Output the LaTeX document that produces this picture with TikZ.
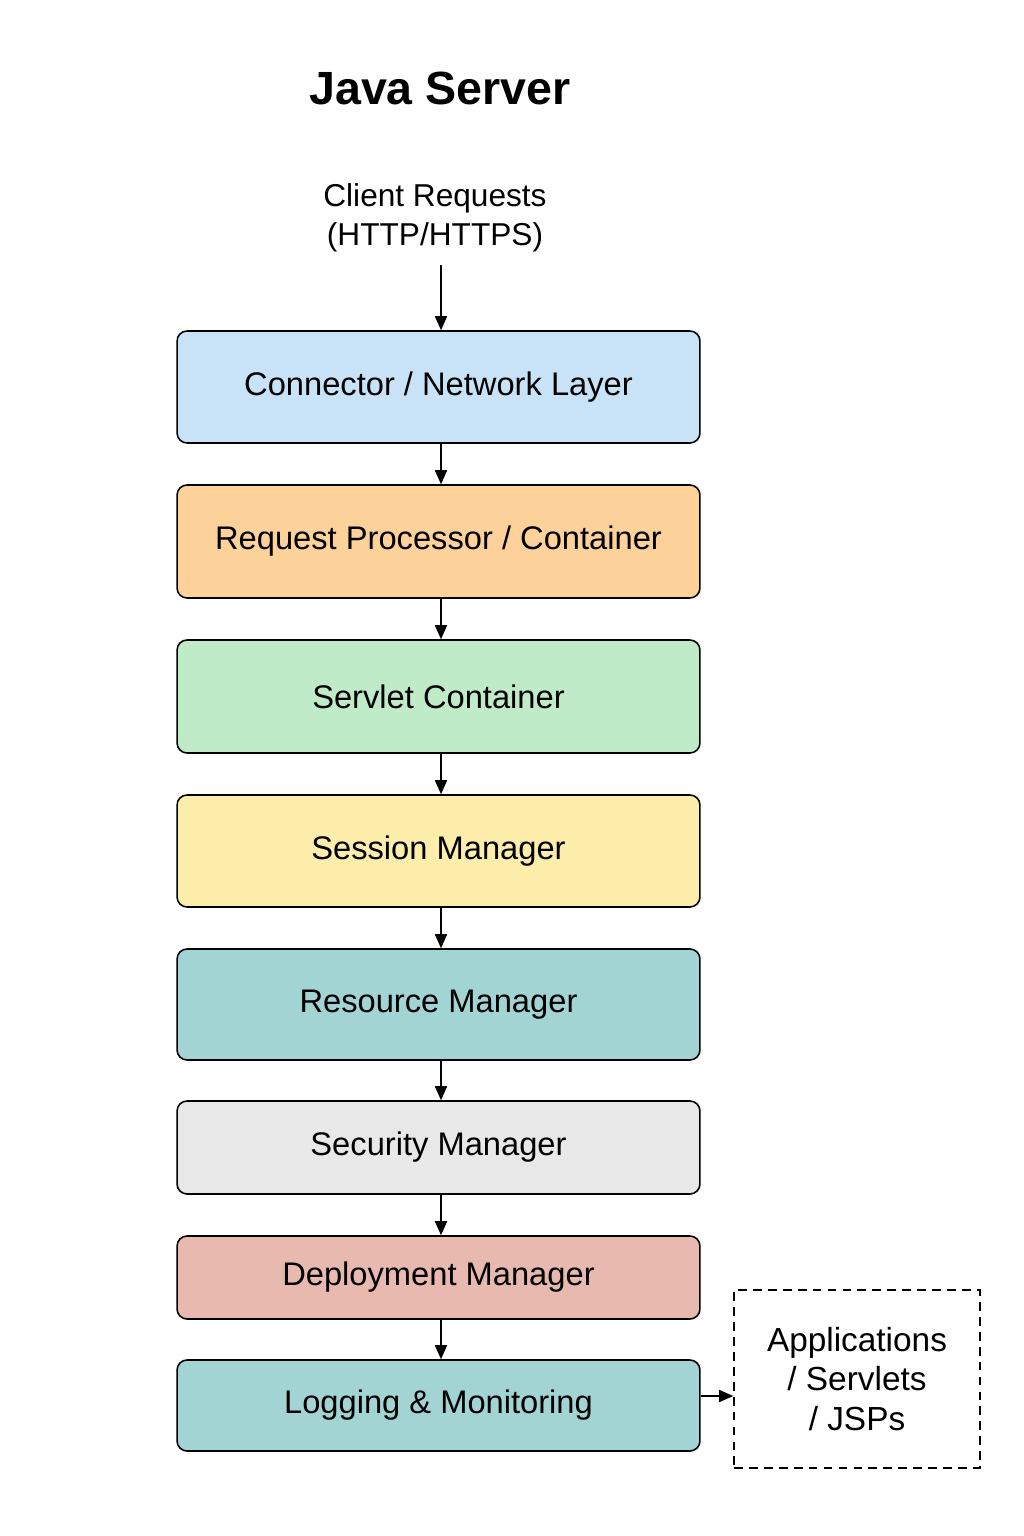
\documentclass[tikz,border=0pt]{standalone}
\usepackage{fontspec}
\setmainfont{Liberation Sans}
\usetikzlibrary{arrows.meta}

\definecolor{cblue}{HTML}{C8E3F7}
\definecolor{corange}{HTML}{FDD29A}
\definecolor{cgreen}{HTML}{BFEBC9}
\definecolor{cyellow}{HTML}{FCEEAA}
\definecolor{cteal}{HTML}{A3D4D4}
\definecolor{cgray}{HTML}{E8E8E8}
\definecolor{cpink}{HTML}{E8B9AF}

\tikzset{
  layer/.style={draw=black,line width=0.9pt,rounded corners=0.2cm,
    minimum width=10.46cm,inner sep=0pt,font=\fontsize{18.6}{22}\selectfont},
  flow/.style={-{Triangle[length=0.28cm,width=0.24cm]},line width=0.9pt}
}

\begin{document}
\begin{tikzpicture}[x=0.02cm,y=-0.02cm]
\useasboundingbox (0,0) rectangle (1024,1536);
  \node[font=\fontsize{26.5}{32}\selectfont\bfseries] (title) at (440,88) {Java Server};
  \node[align=center,font=\fontsize{18}{22}\selectfont] (client) at (435,218) {Client Requests\\(HTTP/HTTPS)};
  \coordinate (c0) at (441,265);
  \node[layer,fill=cblue,minimum height=2.24cm]   (conn)  at (438.5,387)  {Connector / Network Layer};
  \node[layer,fill=corange,minimum height=2.26cm] (req)   at (438.5,541.5){Request Processor / Container};
  \node[layer,fill=cgreen,minimum height=2.26cm]  (serv)  at (438.5,696.5){Servlet Container};
  \node[layer,fill=cyellow,minimum height=2.24cm] (sess)  at (438.5,851)  {Session Manager};
  \node[layer,fill=cteal,minimum height=2.22cm]   (res)   at (438.5,1004.5){Resource Manager};
  \node[layer,fill=cgray,minimum height=1.86cm]   (sec)   at (438.5,1147.5){Security Manager};
  \node[layer,fill=cpink,minimum height=1.66cm]   (dep)   at (438.5,1277.5){Deployment Manager};
  \node[layer,fill=cteal,minimum height=1.82cm]   (log)   at (438.5,1405.5){Logging \& Monitoring};
  % applications box
  \node[draw,dashed,line width=0.9pt,dash pattern=on 5pt off 3.5pt,minimum width=4.92cm,minimum height=3.56cm,
    align=center,font=\fontsize{19}{22.5}\selectfont] (apps) at (857,1379) {Applications\\/ Servlets\\/ JSPs};
  \draw[flow] (c0) -- (conn.north -| c0);
  \draw[flow] (conn.south -| c0) -- (req.north -| c0);
  \draw[flow] (req.south -| c0) -- (serv.north -| c0);
  \draw[flow] (serv.south -| c0) -- (sess.north -| c0);
  \draw[flow] (sess.south -| c0) -- (res.north -| c0);
  \draw[flow] (res.south -| c0) -- (sec.north -| c0);
  \draw[flow] (sec.south -| c0) -- (dep.north -| c0);
  \draw[flow] (dep.south -| c0) -- (log.north -| c0);
  \draw[flow] (log.east |- 0,1396) -- (apps.west |- 0,1396);
\end{tikzpicture}
\end{document}
